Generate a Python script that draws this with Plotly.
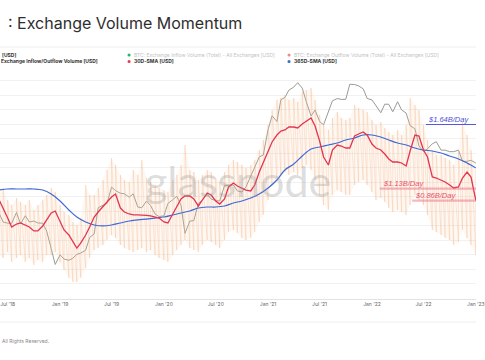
import math
import plotly.graph_objects as go
import pandas as pd

# ---------------- data ----------------
# semi-monthly dates (1st & 15th), Jun 2018 .. Jan 2023
dates = pd.date_range('2018-06-01', '2023-01-01', freq='SMS')
# monthly dates for the slow 365D average
months = pd.date_range('2018-06-01', '2023-01-01', freq='MS')

# BTC price [USD]
btc_price = [
    7500, 6500, 6380, 6360, 7600, 6300, 7200, 6500, 6600, 6400, 6370, 5600, 4200, 3250,
    3800, 3550, 3480, 3600, 3830, 3920, 4100, 5050, 5350, 8200, 8550, 8800,
    11500, 10850, 10400, 10300, 9750, 10300, 8300, 8200, 9150, 8500, 7400, 7100,
    7200, 8800, 9350, 9900, 8550, 5400, 6600, 6650, 8800, 9300, 10200, 9450,
    9230, 9150, 11800, 11900, 11900, 10800, 10600, 11500, 13800, 15900, 18800, 19400,
    29400, 36800, 33500, 47900, 49600, 55900, 58800, 63200, 57800, 46500, 36700, 40500,
    33500, 31800, 39900, 47000, 48800, 48100, 48200, 61600, 61300, 60000, 57200, 48900,
    47700, 43100, 38700, 44500, 44400, 39300, 46300, 40500, 38500, 31300, 29800, 22500,
    20500, 21500, 23300, 24100, 21000, 21000, 20500, 20500, 21000, 17500, 17500, 17800,
    17000,
]

# 30D-SMA of exchange inflow/outflow volume [billion USD]
sma30 = [
    0.871, 0.724, 0.575, 0.468, 0.501, 0.513, 0.490, 0.468, 0.427, 0.427,
    0.479, 0.550, 0.646, 0.676, 0.525, 0.437, 0.389, 0.331, 0.288, 0.324,
    0.389, 0.468, 0.589, 0.661, 0.741, 0.832, 0.933, 1.000, 0.724, 0.661,
    0.631, 0.617, 0.617, 0.617, 0.612, 0.603, 0.589, 0.575, 0.525, 0.513,
    0.631, 0.759, 0.891, 0.955, 0.955, 0.891, 0.759, 0.871, 1.023, 0.977,
    0.851, 0.794, 0.891, 1.175, 1.288, 1.202, 1.148, 1.096, 1.072, 1.230,
    1.660, 2.042, 2.692, 3.311, 3.890, 4.266, 4.365, 4.677, 4.677, 4.571,
    5.012, 5.370, 5.754, 4.786, 3.388, 2.344, 1.950, 2.754, 3.090, 3.020,
    2.884, 2.884, 3.802, 3.981, 4.169, 3.890, 3.162, 2.884, 2.754, 2.512,
    2.239, 2.089, 2.089, 2.042, 1.905, 2.692, 3.890, 3.802, 2.754, 2.344,
    1.479, 1.445, 1.380, 1.318, 1.230, 1.148, 1.175, 1.445, 1.660, 1.479,
    0.860,
]

# 365D-SMA [billion USD], monthly
sma365 = [
    1.096, 1.122, 1.122, 1.122, 1.122, 1.096, 1.000,
    0.851, 0.692, 0.589, 0.525, 0.490, 0.479, 0.490, 0.513, 0.537, 0.550, 0.562, 0.575,
    0.589, 0.617, 0.646, 0.676, 0.724, 0.741, 0.741, 0.759, 0.813, 0.851, 0.912, 1.000,
    1.148, 1.380, 1.738, 1.995, 2.399, 2.818, 2.951, 3.090, 3.236, 3.467, 3.631, 3.890,
    3.890, 3.715, 3.467, 3.236, 3.090, 2.884, 2.754, 2.692, 2.570, 2.399, 2.239, 2.042,
    1.820,
]

# daily exchange inflow/outflow volume, weekly swing: highs and lows [billion USD]
vol_high = [
    0.977, 1.148, 0.871, 0.776, 0.912, 0.832, 0.776, 0.871, 0.692, 0.776,
    0.871, 0.977, 1.148, 1.047, 0.776, 0.661, 0.617, 0.525, 0.490, 0.575,
    1.230, 0.977, 0.977, 1.148, 1.380, 1.738, 2.291, 1.950, 1.549, 1.380,
    1.318, 1.738, 1.549, 2.188, 1.445, 1.318, 1.230, 1.148, 1.096, 1.047,
    1.380, 1.549, 1.950, 3.090, 1.738, 1.660, 1.380, 1.549, 1.738, 1.660,
    1.445, 1.318, 1.660, 1.950, 2.188, 2.089, 1.950, 1.820, 1.950, 2.188,
    2.754, 3.467, 4.898, 6.918, 8.710, 9.120, 9.772, 8.710, 9.120, 8.318,
    10.47, 10.96, 11.48, 8.710, 6.166, 4.898, 4.365, 5.754, 6.607, 5.754,
    5.495, 5.754, 7.762, 7.244, 6.918, 6.607, 5.495, 4.898, 5.248, 4.571,
    4.169, 3.890, 4.365, 3.890, 4.898, 9.120, 7.762, 6.918, 4.898, 3.467,
    2.754, 2.455, 2.455, 2.291, 2.188, 1.950, 2.754, 5.248, 3.890, 2.754,
    1.738,
]
vol_low = [
    0.245, 0.229, 0.263, 0.209, 0.229, 0.245, 0.209, 0.229, 0.195, 0.219,
    0.209, 0.245, 0.245, 0.263, 0.209, 0.174, 0.145, 0.132, 0.132, 0.145,
    0.182, 0.229, 0.275, 0.288, 0.309, 0.347, 0.389, 0.363, 0.309, 0.288,
    0.275, 0.263, 0.275, 0.288, 0.263, 0.275, 0.245, 0.229, 0.219, 0.209,
    0.245, 0.275, 0.309, 0.347, 0.288, 0.275, 0.263, 0.309, 0.347, 0.331,
    0.309, 0.288, 0.347, 0.417, 0.437, 0.407, 0.363, 0.347, 0.363, 0.417,
    0.525, 0.617, 0.871, 1.230, 1.445, 1.549, 1.660, 1.549, 1.660, 1.549,
    1.820, 1.950, 1.738, 1.380, 0.977, 0.776, 0.692, 0.977, 1.096, 1.047,
    0.977, 0.977, 1.230, 1.318, 1.380, 1.230, 1.047, 0.871, 0.912, 0.832,
    0.724, 0.661, 0.692, 0.661, 0.617, 0.776, 0.977, 0.871, 0.776, 0.617,
    0.437, 0.417, 0.389, 0.363, 0.347, 0.309, 0.331, 0.437, 0.363, 0.309,
    0.245,
]

# annotated levels [billion USD/day]
level_labels = ['$1.64B/Day', '$1.13B/Day', '$0.86B/Day']
level_values = [1.64, 1.13, 0.86]

x_tick_format = "%b '%y"

# ---------------- layout helpers ----------------
W, H = 485, 360
T, B = 66, 61
PH = H - T - B


def py(p):
    return (H - B - p) / PH


def px(p):
    return p / W


FONT = 'Inter'
RED = '#e4344f'
BLUE = '#3f69d4'
GRAY = '#979c93'

# zig-zag of the daily swing: low -> high at every reading
zx, zy = [], []
for d, lo, hi in zip(dates, vol_low, vol_high):
    zx += [d, d]
    zy += [lo, hi]

fig = go.Figure()
fig.add_trace(go.Scatter(x=dates, y=btc_price, yaxis='y', mode='lines',
                         line=dict(color=GRAY, width=1), hoverinfo='skip'))
# pale band between weekly lows and highs
fig.add_trace(go.Scatter(x=dates, y=vol_low, yaxis='y2', mode='lines',
                         line=dict(width=0, color='rgba(0,0,0,0)'), hoverinfo='skip'))
fig.add_trace(go.Scatter(x=dates, y=vol_high, yaxis='y2', mode='lines',
                         line=dict(width=0, color='rgba(0,0,0,0)'), fill='tonexty',
                         fillcolor='rgba(250,200,166,0.13)', hoverinfo='skip'))
fig.add_trace(go.Scatter(x=zx, y=zy, yaxis='y2', mode='lines',
                         line=dict(color='rgba(246,176,128,0.36)', width=0.8),
                         hoverinfo='skip'))
fig.add_trace(go.Scatter(x=months, y=sma365, yaxis='y2', mode='lines',
                         line=dict(color=BLUE, width=1.2, shape='spline'),
                         hoverinfo='skip'))
fig.add_trace(go.Scatter(x=dates, y=sma30, yaxis='y2', mode='lines',
                         line=dict(color=RED, width=1.3), hoverinfo='skip'))

annotations = []
shapes = []

# title
annotations.append(dict(text=': Exchange Volume Momentum', x=px(6), y=py(23),
                        xref='paper', yref='paper', xanchor='left', yanchor='middle',
                        showarrow=False, font=dict(family=FONT, size=16, color='#2e2e2e')))

# legend block
shapes.append(dict(type='line', xref='paper', yref='paper', x0=0, x1=1, y0=py(47), y1=py(47),
                   line=dict(color='#eeeeee', width=1)))
leg = [
    (0, 55, None, '[USD]', '#333333', 'bold'),
    (-1.5, 61.5, None, 'Exchange Inflow/Outflow Volume [USD]', '#333333', 'bold'),
    (135, 55, '#2fb36b', 'BTC: Exchange Inflow Volume (Total) - All Exchanges [USD]', '#c2c2c2', 'normal'),
    (135, 61.5, '#e33a5c', '30D-SMA [USD]', '#333333', 'bold'),
    (298, 55, '#f08a8a', 'BTC: Exchange Outflow Volume (Total) - All Exchanges [USD]', '#c2c2c2', 'normal'),
    (298, 61.5, BLUE, '365D-SMA [USD]', '#333333', 'bold'),
]
for lx, ly, dot, txt, col, wt in leg:
    annotations.append(dict(text=txt, x=px(lx), y=py(ly), xref='paper', yref='paper',
                            xanchor='left', yanchor='middle', showarrow=False,
                            font=dict(family=FONT, size=5, color=col, weight=wt)))
    if dot:
        r = 1.6
        shapes.append(dict(type='circle', xref='paper', yref='paper',
                           x0=px(lx - 3.5 - r), x1=px(lx - 3.5 + r),
                           y0=py(ly + r), y1=py(ly - r),
                           fillcolor=dot, line=dict(width=0)))

# watermark
annotations.append(dict(text='glassnode', x=px(243), y=py(180), xref='paper', yref='paper',
                        xanchor='center', yanchor='middle', showarrow=False,
                        font=dict(family='Lato', size=43, color='rgba(150,150,150,0.33)')))

# level annotations
annotations.append(dict(text=level_labels[0], x=px(434), y=py(119.5), xref='paper', yref='paper',
                        xanchor='left', yanchor='middle', showarrow=False,
                        font=dict(family='Liberation Sans', size=7.5, color='#4b4fd2', style='italic')))
shapes.append(dict(type='line', xref='paper', yref='paper', x0=px(434), x1=1,
                   y0=py(124.5), y1=py(124.5), line=dict(color='#5459d8', width=1)))
for lab, val, x0 in [(level_labels[1], level_values[1], 387), (level_labels[2], level_values[2], 420)]:
    shapes.append(dict(type='line', xref='paper', yref='y2', x0=px(x0), x1=1,
                       y0=val, y1=val, line=dict(color='rgba(236,96,118,0.45)', width=2.2)))
    annotations.append(dict(text=lab, x=px(x0 + 1), y=math.log10(val), xref='paper', yref='y2',
                            xanchor='left', yanchor='bottom', yshift=-1, showarrow=False,
                            font=dict(family='Liberation Sans', size=7.5, color='#e8506a', style='italic')))

# footer
shapes.append(dict(type='line', xref='paper', yref='paper', x0=0, x1=1, y0=py(322), y1=py(322),
                   line=dict(color='#eeeeee', width=1)))
annotations.append(dict(text='All Rights Reserved.', x=px(0), y=py(341), xref='paper', yref='paper',
                        xanchor='left', yanchor='middle', showarrow=False,
                        font=dict(family=FONT, size=5, color='#8a8a8a')))

fig.update_layout(
    width=W, height=H,
    margin=dict(l=0, r=0, t=T, b=B, pad=0),
    paper_bgcolor='white', plot_bgcolor='white',
    showlegend=False,
    annotations=annotations, shapes=shapes,
    xaxis=dict(type='date', range=['2018-06-04', '2023-01-01 12:00'],
               showgrid=False, zeroline=False, showline=True, linecolor='#e3e3e3', linewidth=1,
               tickformat=x_tick_format, dtick='M6', tick0='2018-07-01', ticks='',
               ticklabeloverflow='allow',
               tickfont=dict(family=FONT, size=5, color='#666666')),
    yaxis=dict(type='log', range=[3.267, 4.919], showgrid=False, zeroline=False,
               showticklabels=False, ticks=''),
    yaxis2=dict(type='log', range=[-1.05, 1.28], overlaying='y', side='left',
                showgrid=True, gridcolor='#f1f1f1', gridwidth=1,
                tick0=-1.04, dtick=0.145, showticklabels=False, ticks='', zeroline=False),
)

fig.write_html('out.html', config={'displayModeBar': False},
               post_script="document.body.style.margin='0';")
